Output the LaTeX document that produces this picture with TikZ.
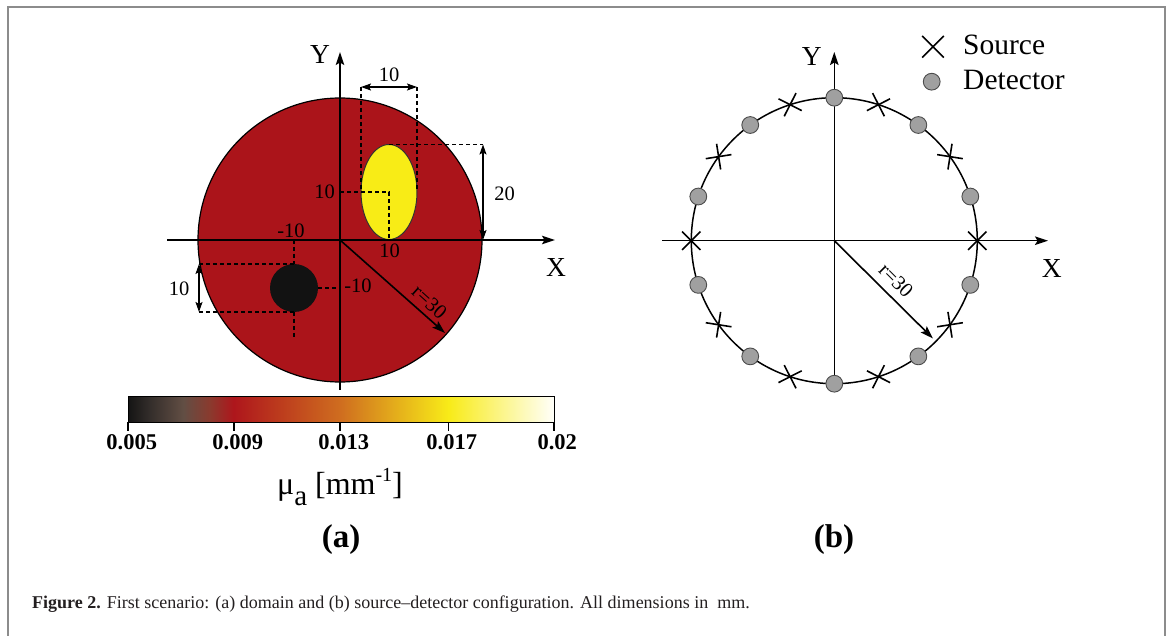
\documentclass[tikz,border=0pt]{standalone}
\usepackage{fontspec}
\setmainfont{Liberation Serif}
\usetikzlibrary{arrows.meta,calc}
\definecolor{domred}{RGB}{171,20,26}
\definecolor{incyellow}{RGB}{248,236,22}
\definecolor{incblack}{RGB}{18,18,18}
\definecolor{detgray}{RGB}{160,160,160}
\definecolor{framegray}{RGB}{140,140,140}
\definecolor{captext}{RGB}{35,31,32}
\definecolor{cbA}{RGB}{20,20,20}
\definecolor{cbB}{RGB}{52,46,43}
\definecolor{cbC}{RGB}{98,78,68}
\definecolor{cbD}{RGB}{138,58,46}
\definecolor{cbE}{RGB}{174,22,28}
\definecolor{cbF}{RGB}{207,109,31}
\definecolor{cbG}{RGB}{248,235,24}
\definecolor{cbH}{RGB}{255,255,250}
\pgfdeclarehorizontalshading{cbshade}{100bp}{color(0bp)=(cbA); color(25bp)=(cbA); color(27.6bp)=(cbB); color(31.5bp)=(cbC); color(34.6bp)=(cbD); color(37.4bp)=(cbE); color(49.9bp)=(cbF); color(62.6bp)=(cbG); color(75bp)=(cbH); color(100bp)=(cbH)}
\begin{document}
\begin{tikzpicture}[x=1pt,y=-1pt,
  axis/.style={line width=1.6pt,-{Stealth[length=13pt,width=8.5pt,inset=2.5pt]}},
  dimarrow/.style={line width=1.5pt,{Stealth[length=10pt,width=7pt,inset=2pt]}-{Stealth[length=10pt,width=7pt,inset=2pt]}},
  dimdash/.style={line width=1.4pt,dash pattern=on 4pt off 3pt},
  num/.style={font=\fontsize{20.5}{24}\selectfont,inner sep=0pt},
  axlbl/.style={font=\fontsize{27.5}{32}\selectfont,inner sep=0pt},
  ticklbl/.style={font=\bfseries\fontsize{22.5}{26}\selectfont,inner sep=0pt},
  panel/.style={font=\bfseries\fontsize{33}{38}\selectfont,inner sep=0pt},
  legendtext/.style={font=\fontsize{29.5}{34}\selectfont,inner sep=0pt,anchor=base west},
  detector/.style={circle,fill=detgray,draw=black!70,line width=0.9pt,minimum size=16.8pt,inner sep=0pt},
  srccross/.style={line width=1.6pt}
]
\useasboundingbox (0,0) rectangle (1168,636);
% frame
\draw[framegray,line width=2pt] (8,636) -- (8,7) -- (1165,7) -- (1165,636);

% ---------------- panel (a)
\coordinate (oa) at (340,240);
\fill[domred] (oa) circle[radius=142];
\draw[line width=1.2pt] (oa) circle[radius=142];
\filldraw[fill=incyellow,draw=black!80,line width=1pt] (389,192) ellipse[x radius=28,y radius=47.5];
\fill[incblack] (294,288) circle[radius=24];

\coordinate (xa0) at (167,240); \coordinate (xa1) at (555,240);
\coordinate (ya0) at (340,390); \coordinate (ya1) at (340,52);
\draw[axis] (xa0) -- (xa1);
\draw[axis] (ya0) -- (ya1);

% ellipse dimensions
\coordinate (e1) at (361,87); \coordinate (e2) at (417,87);
\draw[dimdash] (e1) -- (361,192);
\draw[dimdash] (e2) -- (417,190);
\draw[dimarrow] (e1) -- (e2);
\draw[dimdash] (340,192) -- (389,192) -- (389,240);
\coordinate (e3) at (483,144.5); \coordinate (e4) at (483,240);
\draw[dimdash] (389,144.5) -- (e3);
\draw[dimarrow] (e3) -- (e4);
% black circle dimensions
\coordinate (b1) at (199,264); \coordinate (b2) at (199,312);
\draw[dimdash] (294,240) -- (294,264);
\draw[dimdash] (294,312) -- (294,339);
\draw[dimdash] (b1) -- (294,264);
\draw[dimdash] (b2) -- (294,312);
\draw[dimarrow] (b1) -- (b2);
\draw[dimdash] (318,288) -- (340,288);
% radius
\coordinate (ra) at (445,333);
\draw[axis] (oa) -- (ra);

\node[axlbl] (Ya) at (320,55) {Y};
\node[axlbl] (Xa) at (556,267) {X};
\node[num] (w10) at (389,74.5) {10};
\node[num] (h20) at (504.5,194) {20};
\node[num] (y10) at (324.5,192) {10};
\node[num] (x10) at (389.5,251) {10};
\node[num] (xm10) at (291,231) {-10};
\node[num] (ym10) at (358,286) {-10};
\node[num] (d10) at (179,288.5) {10};
\node[num,rotate=-42] (ra30) at (429.5,302) {r=30};

% colorbar
\shade[shading=cbshade] (128,397) rectangle (554,422);
\draw[line width=1pt] (128,397) rectangle (554,422);
\foreach \x in {128,234,340,448.3,554} \draw[line width=1.1pt] (\x,422) -- (\x,431);
\node[ticklbl] (t1) at (131.7,441.7) {0.005};
\node[ticklbl] (t2) at (237.7,441.7) {0.009};
\node[ticklbl] (t3) at (343.7,441.7) {0.013};
\node[ticklbl] (t4) at (451.8,441.7) {0.017};
\node[ticklbl] (t5) at (557.3,441.7) {0.02};
\node[inner sep=0pt,anchor=base] (mua) at (340,494) {\fontsize{32}{36}\selectfont μ\raisebox{-11pt}{\fontsize{29}{34}\selectfont a}\hspace{8pt}[mm\raisebox{12.5pt}{\fontsize{20}{24}\selectfont -1}]};
\node[panel] (pa) at (341,540) {(a)};

% ---------------- panel (b)
\coordinate (ob) at (834.3,240.7);
\draw[line width=1.5pt] (ob) circle[radius=143];
\coordinate (xb0) at (662,240.7); \coordinate (xb1) at (1048,240.7);
\coordinate (yb0) at (834.3,383.7); \coordinate (yb1) at (834.3,52);
\draw[axis] (xb0) -- (xb1);
\draw[axis] (yb0) -- (yb1);
\coordinate (rb) at (933,338.5);
\draw[axis] (ob) -- (rb);
\foreach \a in {0,36,...,324} {
  \draw[srccross] ($(ob)+(\a:143)+(\a+45:13)$) -- ($(ob)+(\a:143)+(\a+225:13)$);
  \draw[srccross] ($(ob)+(\a:143)+(\a+135:13)$) -- ($(ob)+(\a:143)+(\a+315:13)$);
}
\foreach \a in {18,54,...,342} \node[detector] at ($(ob)+(\a:143)$) {};
\node[axlbl] (Yb) at (811.7,56.7) {Y};
\node[axlbl] (Xb) at (1051.7,268.3) {X};
\node[num,rotate=-45] (rb30) at (896,280.5) {r=30};
% legend
\coordinate (lc) at (933,46.7);
\draw[srccross] ($(lc)+(-10.8,-10.8)$) -- ($(lc)+(10.8,10.8)$);
\draw[srccross] ($(lc)+(-10.8,10.8)$) -- ($(lc)+(10.8,-10.8)$);
\node[detector] (ld) at (931.7,81.7) {};
\node[legendtext] (ls) at (963,55) {Source};
\node[legendtext] (ldt) at (963,90) {Detector};
\node[panel] (pb) at (834,540) {(b)};

% caption
\node[anchor=base west,inner sep=0pt,text=captext,font=\fontsize{18}{21}\selectfont] (cap) at (32,608) {\textbf{Figure 2.} First scenario: (a) domain and (b) source–detector configuration. All dimensions in \ mm.};
\end{tikzpicture}
\end{document}
